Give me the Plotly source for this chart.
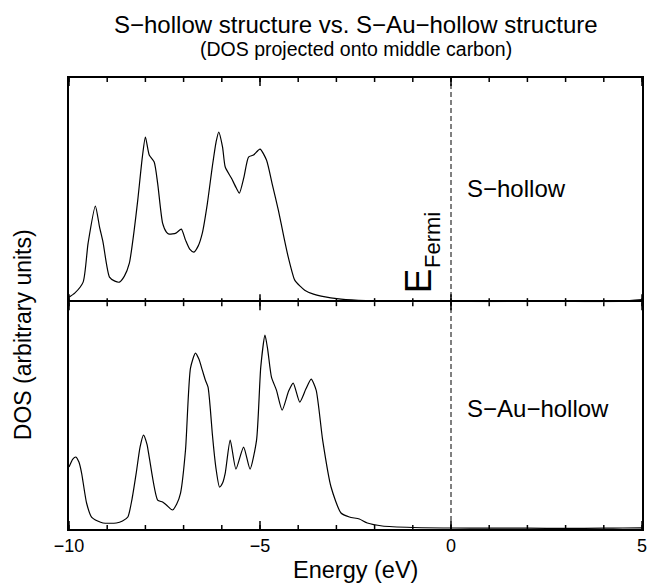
import plotly.graph_objects as go

# Energy grid (eV) and projected DOS for the S-hollow structure
energy_top = [-10.0, -9.85, -9.63, -9.50, -9.31, -9.20, -9.11, -8.94, -8.80, -8.68, -8.55,
              -8.42, -8.30, -8.20, -8.08, -8.00, -7.90, -7.77, -7.68, -7.55, -7.45, -7.38,
              -7.20, -7.06, -6.95, -6.84, -6.73, -6.62, -6.51, -6.38, -6.25, -6.15, -6.08,
              -5.98, -5.91, -5.75, -5.62, -5.54, -5.42, -5.30, -5.17, -5.00, -4.83, -4.68,
              -4.52, -4.38, -4.26, -4.09, -3.95, -3.83, -3.60, -3.40, -2.88, -2.23, -1.50,
              -1.00, 0.00, 1.00, 2.00, 3.00, 3.50, 4.00, 4.50, 5.00]
dos_top = [0.05, 0.09, 0.20, 0.59, 0.96, 0.75, 0.60, 0.25, 0.21, 0.20, 0.26,
           0.39, 0.70, 1.02, 1.45, 1.65, 1.47, 1.40, 1.19, 0.79, 0.70, 0.68,
           0.69, 0.73, 0.62, 0.53, 0.50, 0.56, 0.69, 0.98, 1.35, 1.60, 1.70,
           1.55, 1.35, 1.24, 1.14, 1.09, 1.25, 1.45, 1.47, 1.53, 1.42, 1.18,
           0.92, 0.66, 0.45, 0.22, 0.16, 0.12, 0.08, 0.06, 0.03, 0.015, 0.012,
           0.010, 0.008, 0.006, 0.008, 0.010, 0.006, 0.005, 0.010, 0.025]

# Energy grid (eV) and projected DOS for the S-Au-hollow structure
energy_bot = [-10.0, -9.90, -9.82, -9.74, -9.67, -9.54, -9.41, -9.25, -9.11, -8.76, -8.60,
              -8.46, -8.35, -8.24, -8.14, -8.05, -7.96, -7.90, -7.68, -7.55, -7.45, -7.29,
              -7.18, -7.08, -6.95, -6.82, -6.69, -6.60, -6.51, -6.43, -6.36, -6.30, -6.25,
              -6.15, -6.06, -5.98, -5.91, -5.78, -5.63, -5.43, -5.26, -5.09, -4.98, -4.87,
              -4.80, -4.70, -4.57, -4.42, -4.25, -4.13, -3.96, -3.80, -3.66, -3.53, -3.36,
              -3.14, -2.88, -2.66, -2.40, -2.19, -1.80, -1.00, 0.00, 1.00, 2.00, 3.00,
              4.00, 4.50, 5.00]
dos_bot = [0.62, 0.70, 0.72, 0.67, 0.56, 0.26, 0.12, 0.08, 0.06, 0.06, 0.08,
           0.12, 0.30, 0.56, 0.82, 0.94, 0.85, 0.72, 0.29, 0.27, 0.24, 0.19,
           0.25, 0.36, 0.79, 1.61, 1.76, 1.70, 1.59, 1.49, 1.42, 1.20, 0.96,
           0.60, 0.42, 0.46, 0.56, 0.89, 0.60, 0.82, 0.60, 0.89, 1.62, 1.94,
           1.80, 1.52, 1.39, 1.19, 1.38, 1.46, 1.27, 1.40, 1.50, 1.39, 0.89,
           0.42, 0.16, 0.12, 0.10, 0.06, 0.03, 0.015, 0.010, 0.008, 0.008, 0.006,
           0.008, 0.010, 0.012]

panel_labels = ["S\u2212hollow", "S\u2212Au\u2212hollow"]
x_range = [-10, 5]
major_ticks = [-10, -5, 0, 5]
minor_ticks = list(range(-10, 6))

FONT = "Liberation Sans, Arial, Helvetica, sans-serif"
split = 0.503

fig = go.Figure()
line_style = dict(color="black", width=1.2, shape="spline", smoothing=0.6)
fig.add_trace(go.Scatter(x=energy_top, y=dos_top, mode="lines", line=line_style,
                         xaxis="x", yaxis="y", showlegend=False, hoverinfo="skip"))
fig.add_trace(go.Scatter(x=energy_bot, y=dos_bot, mode="lines", line=line_style,
                         xaxis="x2", yaxis="y2", showlegend=False, hoverinfo="skip"))

ycommon = dict(showline=True, linecolor="black", linewidth=1.5, mirror=True,
               showticklabels=False, ticks="", showgrid=False, zeroline=False)

fig.update_layout(
    width=654, height=583,
    margin=dict(l=69, r=7, t=78, b=54),
    paper_bgcolor="white", plot_bgcolor="white",
    font=dict(family=FONT, color="black"),
    # top panel: frame line along its top edge only
    xaxis=dict(range=x_range, anchor="y", side="top", showline=True, mirror=False,
               linecolor="black", linewidth=1.5, showticklabels=False, ticks="",
               showgrid=False, zeroline=False),
    yaxis=dict(ycommon, domain=[split, 1], range=[0, 2.24]),
    # bottom panel: frame lines on both edges, tick labels below
    xaxis2=dict(range=x_range, anchor="y2", side="bottom", showline=True, mirror=True,
                linecolor="black", linewidth=1.5, tickvals=major_ticks, ticks="",
                showticklabels=True, tickfont=dict(size=18, family=FONT),
                showgrid=False, zeroline=False),
    yaxis2=dict(ycommon, domain=[0, split], range=[0, 2.27]),
)

# Inward tick marks on the top edge, both sides of the divider, and the bottom edge
tick_edges = [(1.0, -1), (split, 1), (split, -1), (0.0, 1)]  # (paper y, direction)
for edge, direction in tick_edges:
    for ticks, length in ((minor_ticks, 4), (major_ticks, 8)):
        for t in ticks:
            fig.add_shape(type="line", xref="x2", yref="paper", ysizemode="pixel",
                          yanchor=edge, x0=t, x1=t, y0=0, y1=direction * length,
                          line=dict(color="black", width=1.5))

# Fermi level marker
fig.add_shape(type="line", xref="x", yref="paper", x0=0, x1=0, y0=0, y1=1,
              line=dict(color="black", width=1, dash="5px,3px"))

annotations = [
    dict(text="S\u2212hollow structure vs. S\u2212Au\u2212hollow structure",
         x=0.5, y=1.118, font=dict(size=24)),
    dict(text="(DOS projected onto middle carbon)", x=0.5, y=1.064, font=dict(size=19.5)),
    dict(text="Energy (eV)", x=0.5, y=-0.091, font=dict(size=23.5)),
    dict(text="DOS (arbitrary units)", x=-0.08, y=0.430, textangle=-90,
         font=dict(size=23)),
]
for a in annotations:
    a.update(xref="paper", yref="paper", showarrow=False,
             xanchor="center", yanchor="middle")
    fig.add_annotation(**a)

fig.add_annotation(text=panel_labels[0], x=0.36, y=0.756, xref="x", yref="paper",
                   xanchor="left", yanchor="middle", showarrow=False,
                   font=dict(size=24))
fig.add_annotation(text=panel_labels[1], x=0.36, y=0.267, xref="x", yref="paper",
                   xanchor="left", yanchor="middle", showarrow=False,
                   font=dict(size=24))
# E_Fermi, written as a large "E" with a smaller rotated subscript
fig.add_annotation(text="E", x=-0.83, y=0.550, xref="x", yref="paper",
                   xanchor="center", yanchor="middle", textangle=-90,
                   showarrow=False, font=dict(size=37))
fig.add_annotation(text="Fermi", x=-0.47, y=0.641, xref="x", yref="paper",
                   xanchor="center", yanchor="middle", textangle=-90,
                   showarrow=False, font=dict(size=22))

fig.write_html("out.html")
